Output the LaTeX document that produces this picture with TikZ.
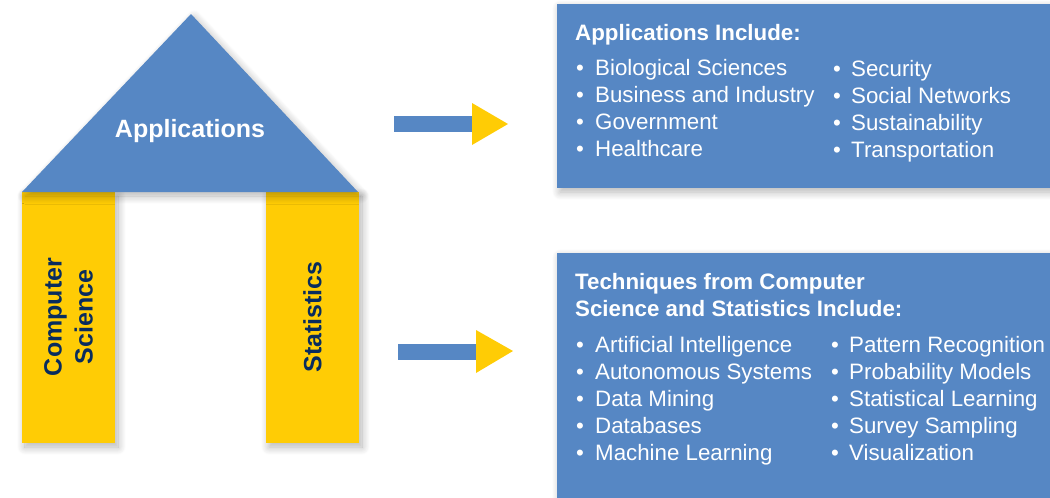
\documentclass[tikz,border=0pt]{standalone}
\usepackage{fontspec}
\setmainfont{Liberation Sans}
\usetikzlibrary{shadows.blur}
\definecolor{roofblue}{RGB}{86,135,196}
\definecolor{pillaryellow}{RGB}{255,204,5}
\definecolor{navy}{RGB}{8,44,94}

\begin{document}
\begin{tikzpicture}[x=1pt,y=-1pt,
  softshadow/.style={blur shadow={shadow xshift=3pt,shadow yshift=-4pt,
      shadow blur radius=8pt,shadow blur steps=14,shadow opacity=30}},
  rooftext/.style={anchor=base,text=white,inner sep=0pt,font=\fontsize{25}{30}\selectfont\bfseries},
  pillartext/.style={text=navy,inner sep=0pt,rotate=90,align=center,
      font=\fontsize{25}{31}\selectfont\bfseries},
  heading/.style={anchor=base west,text=white,inner sep=0pt,
      font=\fontsize{22.3}{27}\selectfont\bfseries},
  listitem/.style={anchor=base west,text=white,inner sep=0pt,
      font=\fontsize{22.3}{27}\selectfont},
]
\useasboundingbox (0,0) rectangle (1050,498);

% pillars
\fill[pillaryellow,softshadow] (22,192) rectangle (115,443);
\fill[pillaryellow,softshadow] (266,192) rectangle (359,443);
\node[pillartext] (cs) at (68.5,317) {Computer\\Science};
\node[pillartext] (stat) at (312.5,317) {Statistics};

% roof
\fill[roofblue,softshadow] (191,14) -- (358,192) -- (22,192) -- cycle;
\node[rooftext] (app) at (190,137) {Applications};

% arrows
\fill[roofblue] (394,116) rectangle (472,132);
\fill[pillaryellow] (472,103) -- (508,124) -- (472,145) -- cycle;
\fill[roofblue] (398,344) rectangle (476,360);
\fill[pillaryellow] (476,330) -- (513,351) -- (476,373) -- cycle;

% applications box
\fill[roofblue,softshadow] (557,4) rectangle (1050,188);
\node[heading] (apph) at (575,40) {Applications Include:};
\foreach \t [count=\i] in {Biological Sciences,Business and Industry,Government,Healthcare}{
  \node[listitem] (ab\i) at (576,48+27*\i) {•};
  \node[listitem] (a\i) at (595,48+27*\i) {\t};
}
\foreach \t [count=\i] in {Security,Social Networks,Sustainability,Transportation}{
  \node[listitem] (bb\i) at (833,49+27*\i) {•};
  \node[listitem] (b\i) at (851,49+27*\i) {\t};
}

% techniques box
\fill[roofblue,softshadow] (557,253) rectangle (1050,498);
\node[heading] (th1) at (575,289) {Techniques from Computer};
\node[heading] (th2) at (575,316) {Science and Statistics Include:};
\foreach \t [count=\i] in {Artificial Intelligence,Autonomous Systems,Data Mining,Databases,Machine Learning}{
  \node[listitem] (cb\i) at (576,325+27*\i) {•};
  \node[listitem] (c\i) at (595,325+27*\i) {\t};
}
\foreach \t [count=\i] in {Pattern Recognition,Probability Models,Statistical Learning,Survey Sampling,Visualization}{
  \node[listitem] (db\i) at (831,325+27*\i) {•};
  \node[listitem] (d\i) at (849,325+27*\i) {\t};
}
\end{tikzpicture}
\end{document}
